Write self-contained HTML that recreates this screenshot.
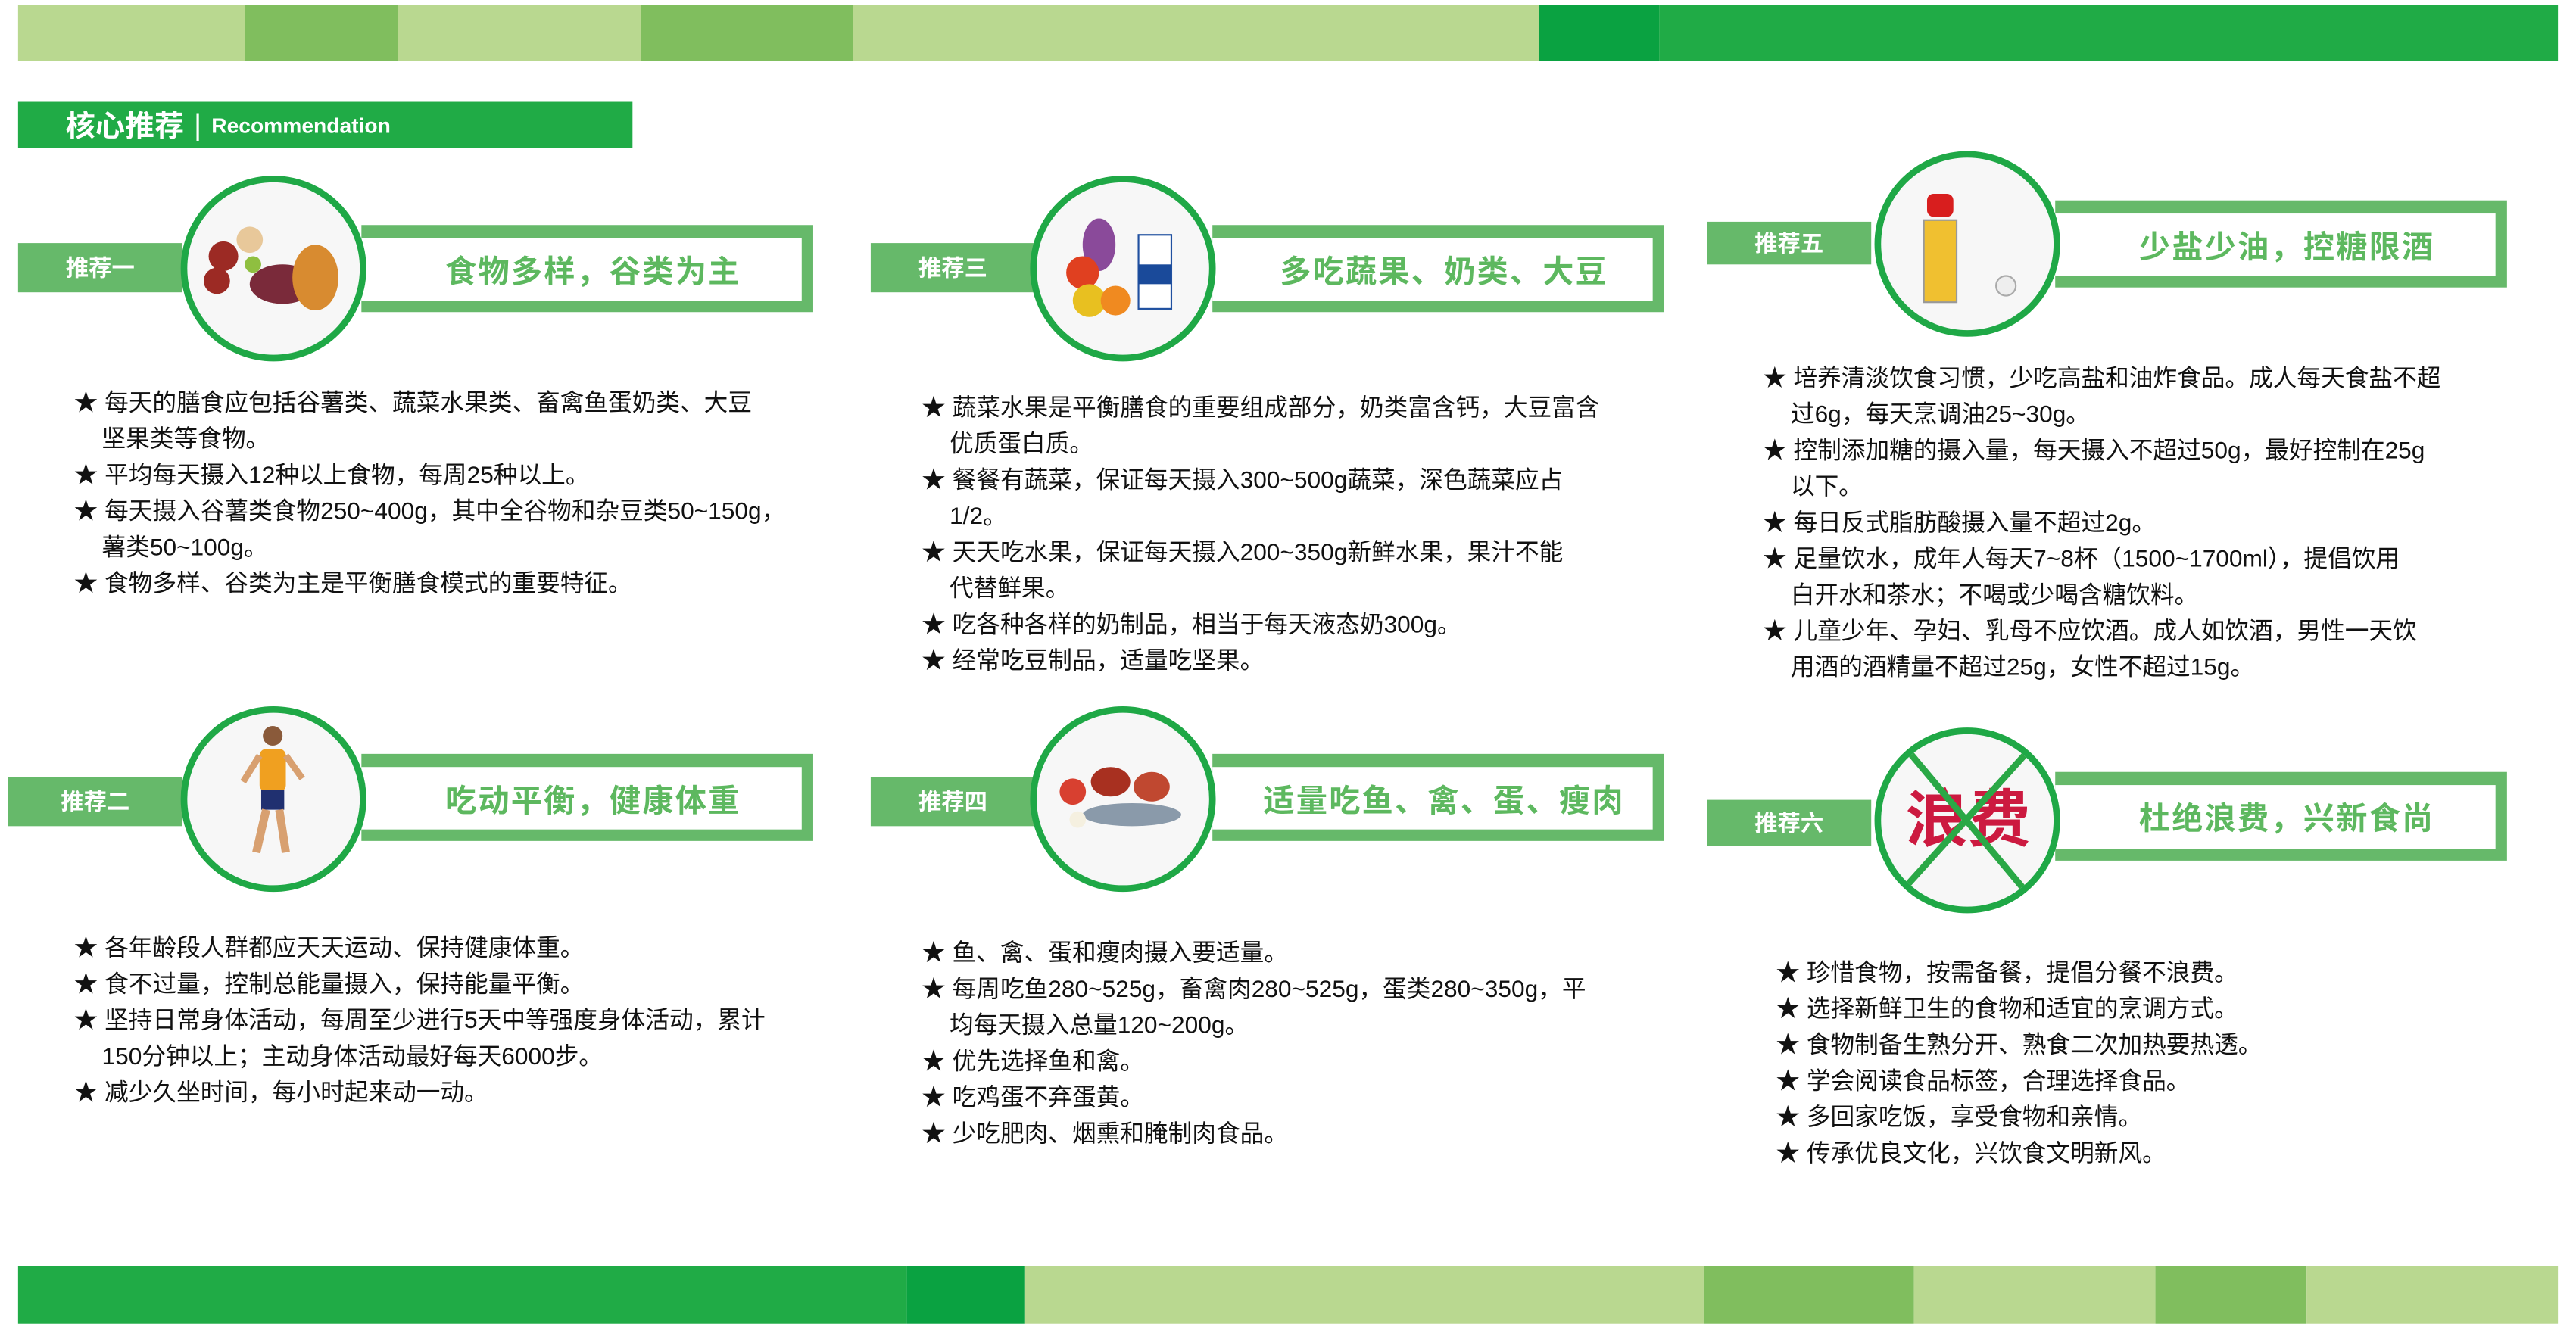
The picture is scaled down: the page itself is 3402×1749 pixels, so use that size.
<!DOCTYPE html>
<html><head><meta charset="utf-8">
<style>
html,body{margin:0;padding:0;background:#fff;width:3402px;height:1748px;overflow:hidden}
#s{position:absolute;left:0;top:0;width:1568px;height:806px;transform:scale(2.16964);transform-origin:0 0;font-family:"Liberation Sans","Noto Sans CJK SC",sans-serif}
.a{position:absolute}
.seg{position:absolute;height:34px}
.L{background:#b9d890}.M{background:#80be5e}.D{background:#0aa241}.G{background:#20ab46}
.lab{position:absolute;background:#66b96a;color:#fff;font-weight:bold;font-size:14px;display:flex;align-items:center;justify-content:center;width:100px}
.tb{position:absolute;background:#66b96a;width:275px;height:53px}
.tb .in{position:absolute;left:0;top:8px;right:7px;bottom:7px;background:#fff;display:flex;align-items:center;justify-content:center;color:#5db85f;font-weight:bold;font-size:19px;letter-spacing:1px;padding-left:14px}
.cir{position:absolute;width:105px;height:105px;border:4px solid #1fa846;border-radius:50%;background:#f7f7f7;overflow:hidden}
.lst{position:absolute;font-size:14.6px;line-height:22px;color:#111;white-space:nowrap}
.lst .i{padding-left:17px}
</style></head><body>
<div id="s">
<div>
<div class="seg L" style="left:11px;top:3px;width:138px"></div>
<div class="seg M" style="left:149px;top:3px;width:93px"></div>
<div class="seg L" style="left:242px;top:3px;width:148px"></div>
<div class="seg M" style="left:390px;top:3px;width:129px"></div>
<div class="seg L" style="left:519px;top:3px;width:418px"></div>
<div class="seg D" style="left:937px;top:3px;width:73px"></div>
<div class="seg G" style="left:1010px;top:3px;width:547px"></div>
</div>
<div>
<div class="seg G" style="left:11px;top:771px;width:541px;height:35px"></div>
<div class="seg D" style="left:552px;top:771px;width:72px;height:35px"></div>
<div class="seg L" style="left:624px;top:771px;width:413px;height:35px"></div>
<div class="seg M" style="left:1037px;top:771px;width:128px;height:35px"></div>
<div class="seg L" style="left:1165px;top:771px;width:147px;height:35px"></div>
<div class="seg M" style="left:1312px;top:771px;width:92px;height:35px"></div>
<div class="seg L" style="left:1404px;top:771px;width:153px;height:35px"></div>
</div>
<div class="a" style="left:11px;top:62px;width:374px;height:28px;background:#20ab46;color:#fff;display:flex;align-items:center">
<span style="margin-left:29px;font-weight:bold;font-size:18px">核心推荐</span><span style="margin:0 6px;font-size:18px">|</span><span style="font-weight:bold;font-size:13px">Recommendation</span></div>

<!-- card 1 -->
<div class="lab" style="left:11px;top:148px;height:30px">推荐一</div>
<div class="tb" style="left:220px;top:137px"><div class="in">食物多样，谷类为主</div></div>
<div class="cir" style="left:110px;top:107px">
<svg width="105" height="105"><circle cx="22" cy="45" r="9" fill="#9c2a24"/><circle cx="18" cy="60" r="8" fill="#9c2a24"/><circle cx="38" cy="35" r="8" fill="#e8c89a"/><ellipse cx="58" cy="62" rx="20" ry="12" fill="#7a2a3a"/><ellipse cx="78" cy="58" rx="14" ry="20" fill="#d88b30"/><circle cx="40" cy="50" r="5" fill="#8fbf40"/></svg></div>
<div class="lst" style="left:45px;top:235px">
<div>★ 每天的膳食应包括谷薯类、蔬菜水果类、畜禽鱼蛋奶类、大豆</div><div class="i">坚果类等食物。</div>
<div>★ 平均每天摄入12种以上食物，每周25种以上。</div>
<div>★ 每天摄入谷薯类食物250~400g，其中全谷物和杂豆类50~150g，</div><div class="i">薯类50~100g。</div>
<div>★ 食物多样、谷类为主是平衡膳食模式的重要特征。</div></div>

<!-- card 3 -->
<div class="lab" style="left:530px;top:148px;height:30px">推荐三</div>
<div class="tb" style="left:738px;top:137px"><div class="in">多吃蔬果、奶类、大豆</div></div>
<div class="cir" style="left:627px;top:107px">
<svg width="105" height="105"><ellipse cx="38" cy="38" rx="10" ry="16" fill="#8a4a9a"/><circle cx="28" cy="55" r="10" fill="#e04020"/><circle cx="32" cy="72" r="10" fill="#e8c020"/><circle cx="48" cy="72" r="9" fill="#f08a20"/><rect x="62" y="32" width="20" height="45" fill="#fff" stroke="#2050a0"/><rect x="62" y="50" width="20" height="12" fill="#1a4a9a"/></svg></div>
<div class="lst" style="left:561px;top:238px">
<div>★ 蔬菜水果是平衡膳食的重要组成部分，奶类富含钙，大豆富含</div><div class="i">优质蛋白质。</div>
<div>★ 餐餐有蔬菜，保证每天摄入300~500g蔬菜，深色蔬菜应占</div><div class="i">1/2。</div>
<div>★ 天天吃水果，保证每天摄入200~350g新鲜水果，果汁不能</div><div class="i">代替鲜果。</div>
<div>★ 吃各种各样的奶制品，相当于每天液态奶300g。</div>
<div>★ 经常吃豆制品，适量吃坚果。</div></div>

<!-- card 5 -->
<div class="lab" style="left:1039px;top:135px;height:26px">推荐五</div>
<div class="tb" style="left:1251px;top:122px"><div class="in">少盐少油，控糖限酒</div></div>
<div class="cir" style="left:1141px;top:92px">
<svg width="105" height="105"><rect x="28" y="22" width="16" height="14" rx="4" fill="#d81e1e"/><rect x="26" y="38" width="20" height="50" fill="#f0c030" stroke="#999"/><circle cx="76" cy="78" r="6" fill="#eee" stroke="#aaa"/></svg></div>
<div class="lst" style="left:1073px;top:220px">
<div>★ 培养清淡饮食习惯，少吃高盐和油炸食品。成人每天食盐不超</div><div class="i">过6g，每天烹调油25~30g。</div>
<div>★ 控制添加糖的摄入量，每天摄入不超过50g，最好控制在25g</div><div class="i">以下。</div>
<div>★ 每日反式脂肪酸摄入量不超过2g。</div>
<div>★ 足量饮水，成年人每天7~8杯（1500~1700ml），提倡饮用</div><div class="i">白开水和茶水；不喝或少喝含糖饮料。</div>
<div>★ 儿童少年、孕妇、乳母不应饮酒。成人如饮酒，男性一天饮</div><div class="i">用酒的酒精量不超过25g，女性不超过15g。</div></div>

<!-- card 2 -->
<div class="lab" style="left:5px;top:473px;height:30px;width:106px">推荐二</div>
<div class="tb" style="left:220px;top:459px"><div class="in">吃动平衡，健康体重</div></div>
<div class="cir" style="left:110px;top:430px">
<svg width="105" height="105"><circle cx="52" cy="14" r="6" fill="#8a5a3a"/><rect x="44" y="22" width="16" height="26" rx="4" fill="#f0a020"/><rect x="45" y="47" width="14" height="12" fill="#203070"/><path d="M48 59 L42 85 M56 59 L60 85" stroke="#d8a070" stroke-width="5"/><path d="M44 26 L34 42 M60 26 L70 40" stroke="#d8a070" stroke-width="4"/></svg></div>
<div class="lst" style="left:45px;top:567px">
<div>★ 各年龄段人群都应天天运动、保持健康体重。</div>
<div>★ 食不过量，控制总能量摄入，保持能量平衡。</div>
<div>★ 坚持日常身体活动，每周至少进行5天中等强度身体活动，累计</div><div class="i">150分钟以上；主动身体活动最好每天6000步。</div>
<div>★ 减少久坐时间，每小时起来动一动。</div></div>

<!-- card 4 -->
<div class="lab" style="left:530px;top:473px;height:30px">推荐四</div>
<div class="tb" style="left:738px;top:459px"><div class="in">适量吃鱼、禽、蛋、瘦肉</div></div>
<div class="cir" style="left:627px;top:430px">
<svg width="105" height="105"><circle cx="22" cy="48" r="8" fill="#d84030"/><ellipse cx="45" cy="42" rx="12" ry="9" fill="#a83020"/><ellipse cx="70" cy="45" rx="11" ry="9" fill="#c04830"/><ellipse cx="58" cy="62" rx="30" ry="7" fill="#8a9aaa"/><circle cx="25" cy="65" r="5" fill="#f5f0e0"/></svg></div>
<div class="lst" style="left:561px;top:570px">
<div>★ 鱼、禽、蛋和瘦肉摄入要适量。</div>
<div>★ 每周吃鱼280~525g，畜禽肉280~525g，蛋类280~350g，平</div><div class="i">均每天摄入总量120~200g。</div>
<div>★ 优先选择鱼和禽。</div>
<div>★ 吃鸡蛋不弃蛋黄。</div>
<div>★ 少吃肥肉、烟熏和腌制肉食品。</div></div>

<!-- card 6 -->
<div class="lab" style="left:1039px;top:487px;height:28px">推荐六</div>
<div class="tb" style="left:1251px;top:470px;height:54px"><div class="in">杜绝浪费，兴新食尚</div></div>
<div class="cir" style="left:1141px;top:443px">
<div class="a" style="left:15px;top:31px;font-size:38px;font-weight:bold;color:#cc1a40;line-height:44px">浪费</div>
<svg class="a" style="left:0;top:0" width="105" height="105"><path d="M18 12 L90 98 M88 12 L14 94" stroke="#2aa846" stroke-width="4"/></svg></div>
<div class="lst" style="left:1081px;top:582px">
<div>★ 珍惜食物，按需备餐，提倡分餐不浪费。</div>
<div>★ 选择新鲜卫生的食物和适宜的烹调方式。</div>
<div>★ 食物制备生熟分开、熟食二次加热要热透。</div>
<div>★ 学会阅读食品标签，合理选择食品。</div>
<div>★ 多回家吃饭，享受食物和亲情。</div>
<div>★ 传承优良文化，兴饮食文明新风。</div></div>
</div>
</body></html>
